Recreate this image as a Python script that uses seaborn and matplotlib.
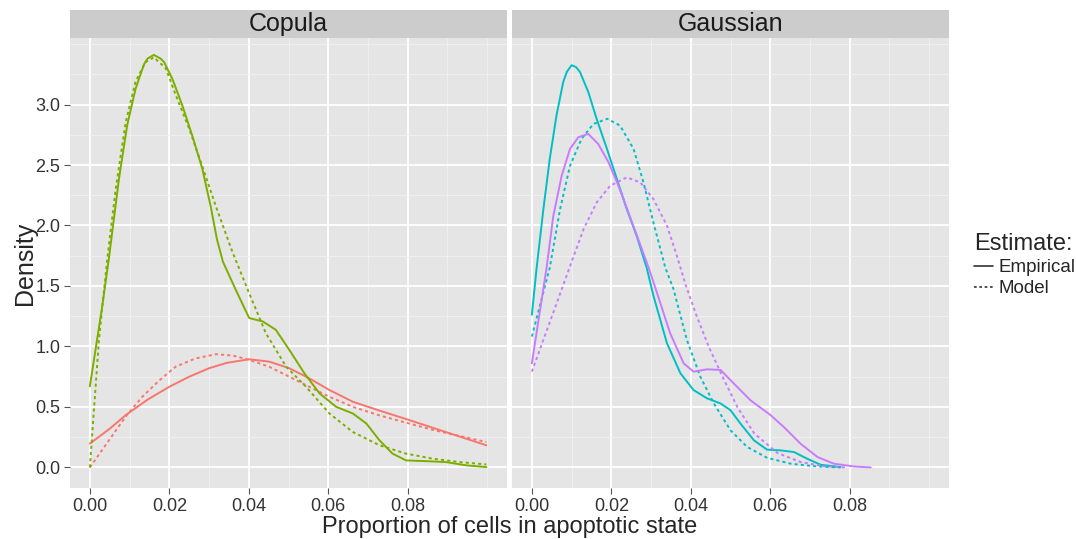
import pandas as pd
import matplotlib.pyplot as plt
import seaborn as sns
from matplotlib.lines import Line2D
from matplotlib.patches import Rectangle
from matplotlib.ticker import MultipleLocator, FormatStrFormatter

# Density curves
# Copula panel, red group
cop_red_emp_x = [0.0, 0.005, 0.009, 0.0145, 0.020, 0.025, 0.030, 0.0345, 0.0401, 0.0451,
                 0.0502, 0.0552, 0.0603, 0.0662, 0.0729, 0.0796, 0.0864, 0.0931, 0.0998]
cop_red_emp_y = [0.197, 0.32, 0.432, 0.56, 0.667, 0.75, 0.82, 0.865, 0.894, 0.875,
                 0.82, 0.737, 0.64, 0.543, 0.47, 0.40, 0.327, 0.255, 0.183]
cop_red_mod_x = [0.0, 0.0048, 0.009, 0.0132, 0.0175, 0.0216, 0.0265, 0.0317, 0.0360, 0.0401,
                 0.0451, 0.0502, 0.0552, 0.0603, 0.0662, 0.0729, 0.0796, 0.0864, 0.0931, 0.0998]
cop_red_mod_y = [0.0, 0.224, 0.42, 0.584, 0.72, 0.833, 0.90, 0.936, 0.925, 0.889,
                 0.833, 0.75, 0.667, 0.584, 0.501, 0.43, 0.37, 0.31, 0.26, 0.21]

# Copula panel, green group
cop_green_emp_x = [0.0, 0.0031, 0.0048, 0.0073, 0.0094, 0.0115, 0.0136, 0.0145, 0.0161, 0.0178,
                   0.0187, 0.0208, 0.0233, 0.0258, 0.0283, 0.0304, 0.0320, 0.0335, 0.0367, 0.0401,
                   0.0435, 0.0468, 0.0502, 0.0540, 0.0578, 0.0620, 0.0662, 0.0696, 0.0729, 0.0762,
                   0.0796, 0.0847, 0.0897, 0.0948, 0.0998]
cop_green_emp_y = [0.67, 1.33, 1.73, 2.38, 2.83, 3.13, 3.33, 3.38, 3.41, 3.38,
                   3.35, 3.21, 2.99, 2.74, 2.47, 2.16, 1.885, 1.70, 1.47, 1.235,
                   1.207, 1.138, 0.972, 0.778, 0.612, 0.501, 0.446, 0.363, 0.224, 0.114,
                   0.058, 0.052, 0.044, 0.017, 0.003]
cop_green_mod_x = [0.0, 0.0023, 0.0044, 0.0065, 0.0090, 0.0115, 0.0140, 0.0161, 0.0191, 0.0216,
                   0.0250, 0.0283, 0.0317, 0.0359, 0.0401, 0.0443, 0.0494, 0.0544, 0.0603, 0.0662,
                   0.0729, 0.0796, 0.0864, 0.0931, 0.0998]
cop_green_mod_y = [0.0, 1.06, 1.73, 2.30, 2.85, 3.19, 3.35, 3.39, 3.30, 3.08,
                   2.80, 2.49, 2.16, 1.78, 1.44, 1.11, 0.833, 0.667, 0.446, 0.293,
                   0.183, 0.114, 0.072, 0.044, 0.025]

# Gaussian panel, cyan group
gau_cyan_emp_x = [0.0, 0.0012, 0.0029, 0.0045, 0.0062, 0.0079, 0.0088, 0.0100, 0.0111, 0.0121,
                  0.0142, 0.0163, 0.0189, 0.0214, 0.0239, 0.0264, 0.0289, 0.0306, 0.0340, 0.0374,
                  0.0407, 0.0441, 0.0475, 0.0500, 0.0525, 0.0559, 0.0592, 0.0626, 0.0660, 0.0693,
                  0.0727, 0.0777]
gau_cyan_emp_y = [1.262, 1.65, 2.135, 2.55, 2.91, 3.187, 3.27, 3.325, 3.31, 3.27,
                  3.104, 2.882, 2.633, 2.384, 2.135, 1.913, 1.65, 1.42, 1.027, 0.778,
                  0.64, 0.571, 0.529, 0.473, 0.363, 0.224, 0.147, 0.141, 0.127, 0.072,
                  0.022, 0.003]
gau_cyan_mod_x = [0.0, 0.0045, 0.0071, 0.0096, 0.0125, 0.0155, 0.0190, 0.0222, 0.0256, 0.0281,
                  0.0306, 0.0336, 0.0357, 0.0390, 0.0424, 0.0458, 0.0500, 0.0542, 0.0592, 0.0651,
                  0.0719, 0.0777]
gau_cyan_mod_y = [1.082, 1.65, 2.135, 2.494, 2.716, 2.84, 2.882, 2.826, 2.633, 2.356,
                  2.024, 1.65, 1.47, 1.055, 0.75, 0.529, 0.307, 0.169, 0.08, 0.031,
                  0.008, 0.0]

# Gaussian panel, purple group
gau_purple_emp_x = [0.0, 0.0037, 0.0054, 0.0075, 0.0096, 0.0117, 0.0142, 0.0167, 0.0193, 0.0218,
                    0.0243, 0.0268, 0.0294, 0.0315, 0.0348, 0.0382, 0.0407, 0.0441, 0.0475, 0.0508,
                    0.0550, 0.0601, 0.0634, 0.0676, 0.0719, 0.0760, 0.0811, 0.0853]
gau_purple_emp_y = [0.861, 1.65, 2.079, 2.411, 2.633, 2.73, 2.757, 2.674, 2.522, 2.328,
                    2.107, 1.885, 1.65, 1.443, 1.11, 0.861, 0.792, 0.811, 0.806, 0.695,
                    0.556, 0.432, 0.335, 0.197, 0.086, 0.031, 0.008, 0.0]
gau_purple_mod_x = [0.0, 0.0045, 0.0087, 0.0100, 0.0130, 0.0163, 0.0197, 0.0239, 0.0273, 0.0306,
                    0.0340, 0.0365, 0.0388, 0.0415, 0.0445, 0.0480, 0.0517, 0.0560, 0.0618, 0.0676,
                    0.0735, 0.0794]
gau_purple_mod_y = [0.792, 1.2, 1.58, 1.70, 1.968, 2.19, 2.328, 2.398, 2.356, 2.218,
                    2.0, 1.75, 1.5, 1.25, 1.0, 0.75, 0.5, 0.28, 0.12, 0.045,
                    0.01, 0.0]

panels = ['Copula', 'Gaussian']
x_ticks = [0.0, 0.02, 0.04, 0.06, 0.08]
y_ticks = [0.0, 0.5, 1.0, 1.5, 2.0, 2.5, 3.0]
palette = {'red': '#F8766D', 'green': '#7CAE00', 'cyan': '#00BFC4', 'purple': '#C77CFF'}
dashes = {'Empirical': '', 'Model': (1.6, 1.6)}


def curve(method, group, est, xs, ys):
    return pd.DataFrame({'method': method, 'group': group, 'estimate': est, 'x': xs, 'y': ys})


df = pd.concat([
    curve('Copula', 'red', 'Empirical', cop_red_emp_x, cop_red_emp_y),
    curve('Copula', 'red', 'Model', cop_red_mod_x, cop_red_mod_y),
    curve('Copula', 'green', 'Empirical', cop_green_emp_x, cop_green_emp_y),
    curve('Copula', 'green', 'Model', cop_green_mod_x, cop_green_mod_y),
    curve('Gaussian', 'cyan', 'Empirical', gau_cyan_emp_x, gau_cyan_emp_y),
    curve('Gaussian', 'cyan', 'Model', gau_cyan_mod_x, gau_cyan_mod_y),
    curve('Gaussian', 'purple', 'Empirical', gau_purple_emp_x, gau_purple_emp_y),
    curve('Gaussian', 'purple', 'Model', gau_purple_mod_x, gau_purple_mod_y),
], ignore_index=True)

sns.set_theme(style='darkgrid', rc={
    'axes.facecolor': '#E5E5E5',
    'grid.color': 'white',
})
plt.rcParams['font.family'] = ['Liberation Sans', 'DejaVu Sans']

W, H = 1076, 539
fig = plt.figure(figsize=(W / 100, H / 100), dpi=100)
fig.patch.set_facecolor('white')

panel_top, panel_bottom = 38, 488
panel_h = panel_bottom - panel_top
strip_h = 28
lefts = [70, 512]
panel_w = 437

for i, name in enumerate(panels):
    ax = fig.add_axes([lefts[i] / W, (H - panel_bottom) / H, panel_w / W, panel_h / H])
    sub = df[df['method'] == name]
    sns.lineplot(data=sub, x='x', y='y', hue='group', style='estimate',
                 palette=palette, dashes=dashes, estimator=None, sort=True,
                 linewidth=1.4, legend=False, ax=ax)
    ax.set_xlim(-0.005, 0.105)
    ax.set_ylim(-0.17, 3.55)
    ax.set_xticks(x_ticks)
    ax.set_yticks(y_ticks)
    ax.xaxis.set_minor_locator(MultipleLocator(0.01))
    ax.yaxis.set_minor_locator(MultipleLocator(0.25))
    ax.xaxis.set_major_formatter(FormatStrFormatter('%.2f'))
    ax.yaxis.set_major_formatter(FormatStrFormatter('%.1f'))
    ax.grid(which='major', color='white', linewidth=1.3)
    ax.grid(which='minor', color='#F2F2F2', linewidth=0.6)
    ax.set_axisbelow(True)
    ax.set_xlabel('')
    ax.set_ylabel('')
    for s in ax.spines.values():
        s.set_visible(False)
    ax.tick_params(axis='both', which='major', length=4, width=0.8, color='#555555',
                   labelsize=13, labelcolor='#333333', pad=3, bottom=True, left=(i == 0))
    ax.tick_params(axis='both', which='minor', length=0)
    if i == 1:
        ax.tick_params(axis='y', labelleft=False, left=False)
    # facet strip
    ax.add_patch(Rectangle((0, 1), 1, strip_h / panel_h, transform=ax.transAxes,
                           facecolor='#CCCCCC', edgecolor='none', clip_on=False))
    ax.text(0.5, 1 + strip_h / 2 / panel_h, name, transform=ax.transAxes,
            ha='center', va='center', fontsize=18, color='#1A1A1A')

fig.text((lefts[0] + lefts[1] + panel_w) / 2 / W, 1 - 527 / H,
         'Proportion of cells in apoptotic state', ha='center', va='center', fontsize=17)
fig.text(25 / W, 1 - (panel_top + panel_bottom) / 2 / H, 'Density', rotation=90,
         ha='center', va='center', fontsize=18)

handles = [Line2D([], [], color='#333333', lw=1.2, label='Empirical'),
           Line2D([], [], color='#333333', lw=1.2, ls=(0, (1.6, 1.6)), label='Model')]
leg = fig.legend(handles=handles, title='Estimate:', loc='upper left',
                 bbox_to_anchor=(965 / W, 1 - 224 / H), frameon=False,
                 fontsize=13.5, title_fontsize=17, handlelength=1.0, handletextpad=0.3,
                 labelspacing=0.2, borderpad=0, alignment='left')

fig.savefig('out.png', dpi=100)
